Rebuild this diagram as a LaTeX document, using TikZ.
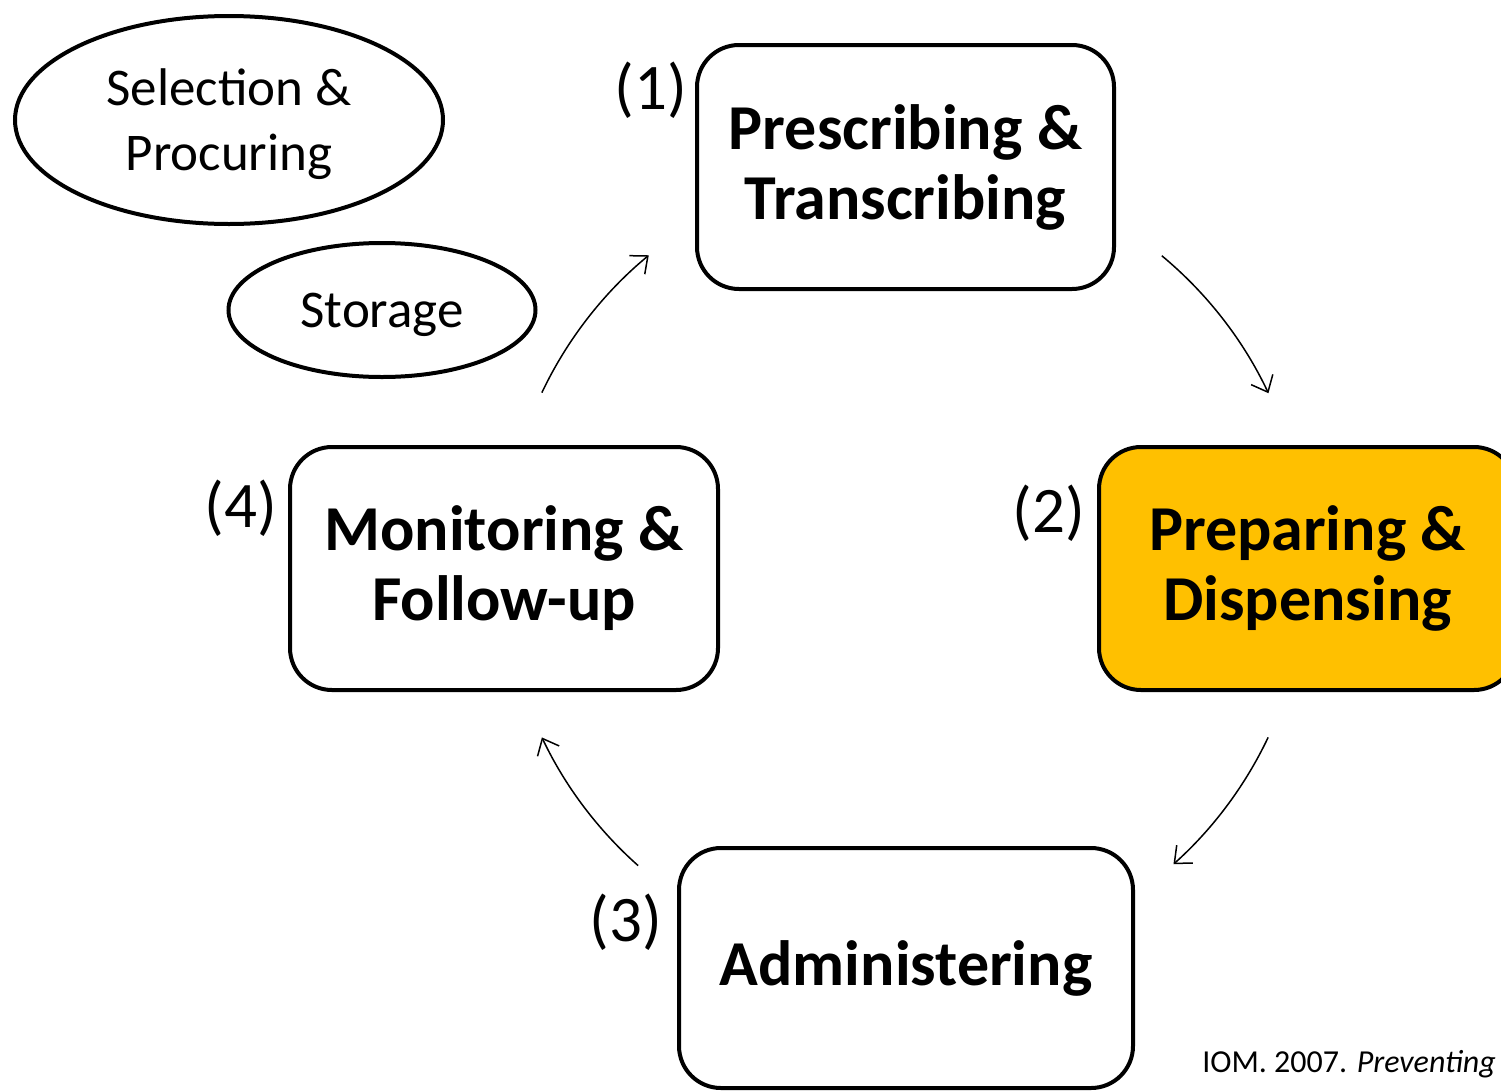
\documentclass[tikz,border=0pt]{standalone}
\usepackage{fontspec}
\setmainfont{Carlito}
\usetikzlibrary{arrows.meta,shapes.geometric}
\definecolor{boxorange}{HTML}{FFC000}
\tikzset{
  stagebox/.style={draw=black, line width=4pt, rounded corners=42pt, align=center,
    font=\fontsize{64}{70}\selectfont\bfseries, inner sep=0pt},
  oval/.style={draw=black, line width=4pt, ellipse, align=center, inner sep=0pt,
    font=\fontsize{53}{65}\selectfont, text depth=0pt},
  numlabel/.style={font=\fontsize{65}{70}\selectfont, inner sep=0pt},
  cyclearrow/.style={line width=1.5pt, -{Straight Barb[length=14pt,width=24pt,line width=1.5pt]}},
}
\begin{document}
\begin{tikzpicture}[x=1pt,y=-1pt]
\useasboundingbox (0,0) rectangle (1501,1090);
\fill[white] (0,0) rectangle (1501,1090);
% ellipses
\node[oval, minimum width=428pt, minimum height=208pt] (sel) at (229,120) {Selection \&\\Procuring};
\node[oval, minimum width=307pt, minimum height=134pt] (sto) at (382,310) {Storage};
% stage boxes
\node[stagebox, minimum width=417pt, minimum height=244pt] (presc) at (905.5,167) {Prescribing \&\\Transcribing};
\node[stagebox, fill=boxorange, minimum width=417pt, minimum height=243pt] (prep) at (1307.5,568.5) {Preparing \&\\Dispensing};
\node[stagebox, minimum width=454pt, minimum height=240pt] (admin) at (906,968) {Administering};
\node[stagebox, minimum width=428pt, minimum height=243pt] (monit) at (504,568.5) {Monitoring \&\\Follow-up};
% number labels
\node[numlabel] (n1) at (651,90) {(1)};
\node[numlabel] (n2) at (1049,513) {(2)};
\node[numlabel] (n3) at (626,922) {(3)};
\node[numlabel] (n4) at (241,508) {(4)};
% cycle arrows
\coordinate (ctr) at (905,565);
\coordinate (a1) at ([shift={(205.4:402)}]ctr);
\coordinate (a2) at ([shift={(309.7:402)}]ctr);
\coordinate (a3) at ([shift={(25.4:402)}]ctr);
\coordinate (a4) at ([shift={(131.6:402)}]ctr);
\draw[cyclearrow] (a1) arc[start angle=205.4, end angle=230.4, radius=402];
\draw[cyclearrow] (a2) arc[start angle=309.7, end angle=334.7, radius=402];
\draw[cyclearrow] (a3) arc[start angle=25.4, end angle=48.1, radius=402];
\draw[cyclearrow] (a4) arc[start angle=131.6, end angle=154.6, radius=402];
% citation
\node[anchor=base east, inner sep=0pt, font=\fontsize{32}{36}\selectfont] (cite) at (1496,1072) {IOM. 2007. \textit{Preventing}};
\end{tikzpicture}
\end{document}
